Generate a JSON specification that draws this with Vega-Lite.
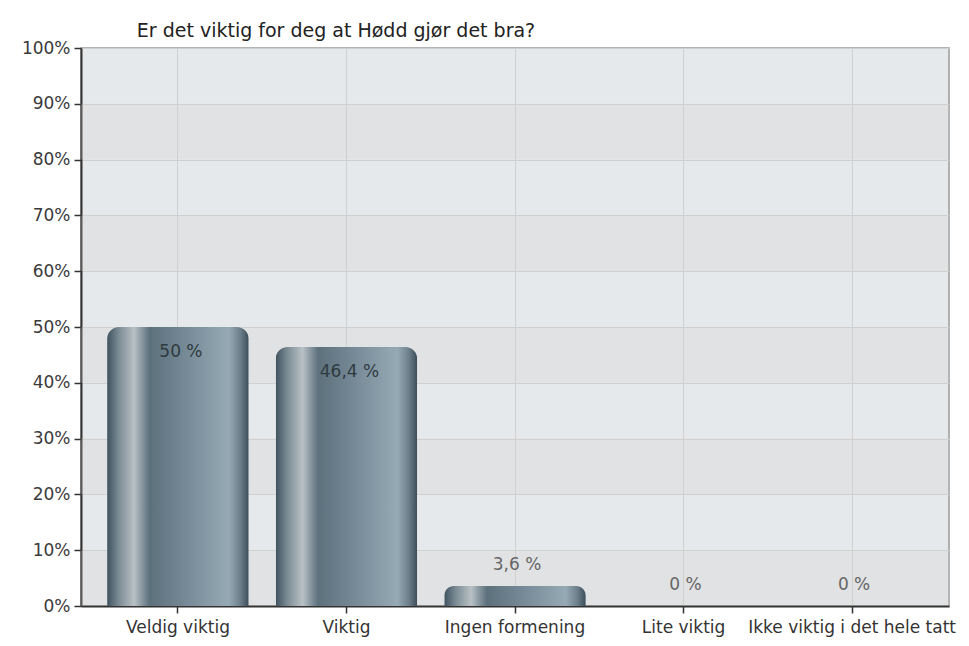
{
  "$schema": "https://vega.github.io/schema/vega-lite/v6.json",
  "autosize": "none",
  "width": 868,
  "height": 558,
  "padding": {"left": 81, "top": 48, "right": 20, "bottom": 40},
  "background": "#ffffff",
  "config": {
    "font": "DejaVu Sans",
    "view": {"fill": "#e6e9ec", "stroke": "#9a9a9a", "strokeWidth": 1.5}
  },
  "title": {
    "text": "Er det viktig for deg at Hødd gjør det bra?",
    "anchor": "middle",
    "dx": -179,
    "offset": -2,
    "fontSize": 19,
    "fontWeight": "normal",
    "color": "#222222",
    "font": "DejaVu Sans"
  },
  "datasets": {
    "answers": [
      {"svar": "Veldig viktig", "andel": 50, "label": "50 %"},
      {"svar": "Viktig", "andel": 46.4, "label": "46,4 %"},
      {"svar": "Ingen formening", "andel": 3.6, "label": "3,6 %"},
      {"svar": "Lite viktig", "andel": 0, "label": "0 %"},
      {"svar": "Ikke viktig i det hele tatt", "andel": 0, "label": "0 %"}
    ],
    "stripes": [
      {"lo": 0, "hi": 10},
      {"lo": 20, "hi": 30},
      {"lo": 40, "hi": 50},
      {"lo": 60, "hi": 70},
      {"lo": 80, "hi": 90}
    ]
  },
  "layer": [
    {
      "data": {"name": "stripes"},
      "mark": {"type": "rect", "color": "#d4d0cc", "opacity": 0.25},
      "encoding": {
        "y": {"field": "lo", "type": "quantitative"},
        "y2": {"field": "hi"}
      }
    },
    {
      "data": {"name": "answers"},
      "mark": {
        "type": "bar",
        "cornerRadiusTopLeft": 12,
        "cornerRadiusTopRight": 12,
        "color": {
          "gradient": "linear",
          "x1": 0, "y1": 0, "x2": 1, "y2": 0,
          "stops": [
            {"offset": 0, "color": "#3e525e"},
            {"offset": 0.08, "color": "#7a8a93"},
            {"offset": 0.19, "color": "#b9c1c6"},
            {"offset": 0.24, "color": "#8e9ca4"},
            {"offset": 0.3, "color": "#5d717d"},
            {"offset": 0.6, "color": "#7a8f9b"},
            {"offset": 0.86, "color": "#96aab5"},
            {"offset": 0.94, "color": "#6c7f8a"},
            {"offset": 1, "color": "#3c4d58"}
          ]
        }
      },
      "encoding": {
        "x": {
          "field": "svar",
          "type": "nominal",
          "sort": null,
          "scale": {"paddingInner": 0.16, "paddingOuter": 0.155},
          "axis": {
            "title": null,
            "labelAngle": 0,
            "labelFontSize": 17,
            "labelColor": "#333333",
            "labelLimit": 0,
            "labelPadding": 6,
            "bandPosition": 0.5,
            "grid": true,
            "gridColor": "#d0d0d0",
            "gridWidth": 1,
            "domainColor": "#333333",
            "domainWidth": 2,
            "tickColor": "#333333",
            "tickSize": 7,
            "tickWidth": 1.5
          }
        },
        "y": {
          "field": "andel",
          "type": "quantitative",
          "scale": {"domain": [0, 100], "nice": false},
          "axis": {
            "title": null,
            "values": [0, 10, 20, 30, 40, 50, 60, 70, 80, 90, 100],
            "labelExpr": "datum.value + '%'",
            "labelFontSize": 17,
            "labelColor": "#3a3a3a",
            "labelPadding": 4,
            "grid": true,
            "gridColor": "#d0d0d0",
            "gridWidth": 1,
            "domainColor": "#333333",
            "domainWidth": 2,
            "tickColor": "#333333",
            "tickSize": 7,
            "tickWidth": 1.5
          }
        }
      }
    },
    {
      "data": {"name": "answers"},
      "transform": [{"filter": "datum.andel >= 10"}],
      "mark": {"type": "text", "fontSize": 17, "color": "#2f3a40", "dy": 25, "baseline": "middle", "dx": 3},
      "encoding": {
        "x": {"field": "svar", "type": "nominal", "sort": null},
        "y": {"field": "andel", "type": "quantitative"},
        "text": {"field": "label"}
      }
    },
    {
      "data": {"name": "answers"},
      "transform": [{"filter": "datum.andel < 10"}],
      "mark": {"type": "text", "fontSize": 17, "color": "#666666", "dy": -21, "baseline": "middle", "dx": 2},
      "encoding": {
        "x": {"field": "svar", "type": "nominal", "sort": null},
        "y": {"field": "andel", "type": "quantitative"},
        "text": {"field": "label"}
      }
    }
  ]
}
